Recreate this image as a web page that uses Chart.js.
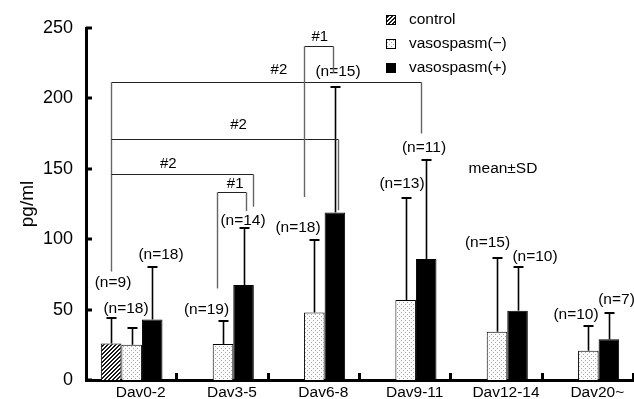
<!DOCTYPE html>
<html>
<head>
<meta charset="utf-8">
<script src="https://cdn.jsdelivr.net/npm/chart.js@4.4.0/dist/chart.umd.min.js"></script>
<style>
  html, body { margin: 0; padding: 0; background: #fff; }
  #wrap { width: 634px; height: 399px; }
</style>
</head>
<body>
<div id="wrap"><canvas id="chart" width="634" height="399"></canvas></div>
<script>
  'use strict';

  // ---- data ----
  const categories = ['Dav0-2', 'Dav3-5', 'Dav6-8', 'Dav9-11', 'Dav12-14', 'Dav20~'];
  const seriesNames = ['control', 'vasospasm(\u2212)', 'vasospasm(+)'];

  const controlMean = [26, null, null, null, null, null];
  const controlSD = [18, null, null, null, null, null];
  const controlN = [9, null, null, null, null, null];

  const negMean = [25, 25.6, 48, 56.8, 34.3, 20.8];
  const negSD = [12, 16, 51.4, 72.2, 52.6, 17.6];
  const negN = [18, 19, 18, 13, 15, 10];

  const posMean = [43, 67.5, 119, 86, 49.2, 28.9];
  const posSD = [37, 40.2, 89, 70.3, 31.3, 18.5];
  const posN = [18, 14, 15, 11, 10, 7];

  const yTicks = [0, 50, 100, 150, 200, 250];

  // significance brackets: ends are bars (category, dataset), heights in pg/ml
  const brackets = [
    { text: '#2', y: 212, a: { cat: 0, ds: 0, dx: 0, drop: 77 }, b: { cat: 3, ds: 2, dx: -5, drop: 175 }, at: 0.54, up: 12.5 },
    { text: '#2', y: 171, a: { cat: 0, ds: 0, dx: 0, drop: 171 }, b: { cat: 2, ds: 2, dx: 3.5, drop: 120.5 }, at: 0.56, up: 14.5 },
    { text: '#2', y: 146, a: { cat: 0, ds: 0, dx: 0, drop: 146 }, b: { cat: 1, ds: 2, dx: 9.5, drop: 123 }, at: 0.40, up: 10.5 },
    { text: '#1', y: 133.7, a: { cat: 1, ds: 1, dx: -6.5, drop: 65 }, b: { cat: 1, ds: 2, dx: 2.5, drop: 120 }, at: 0.61, up: 9 },
    { text: '#1', y: 237.2, a: { cat: 2, ds: 1, dx: -10.5, drop: 130 }, b: { cat: 2, ds: 2, dx: -2, drop: 218 }, at: 0.53, up: 9.5 }
  ];

  // where each "(n=..)" label sits relative to its error cap, px
  const nLabelOffsets = [
    [[1.5, -35], null, null, null, null, null],
    [[-6.5, -19.5], [-17, -11.5], [-16.5, -12.5], [-4.5, -14], [-10, -15], [-12.5, -11]],
    [[8.5, -12.5], [-1.5, -7], [2.5, -15], [-2.5, -12.5], [16.5, -10.5], [7, -13.5]]
  ];

  const FONT = "'Liberation Sans', Arial, Helvetica, sans-serif";

  function hatchPattern(ctx) {
    const c = document.createElement('canvas');
    c.width = c.height = 4;
    const g = c.getContext('2d');
    g.fillStyle = '#fff';
    g.fillRect(0, 0, 4, 4);
    g.fillStyle = '#1a1a1a';
    for (let i = 0; i < 4; i++) {
      g.fillRect(i, 3 - i, 1, 1);
      g.fillRect((i + 1) % 4, 3 - i, 1, 1);
    }
    return ctx.createPattern(c, 'repeat');
  }

  function dotPattern(ctx) {
    const c = document.createElement('canvas');
    c.width = c.height = 4;
    const g = c.getContext('2d');
    g.fillStyle = '#fcfcfc';
    g.fillRect(0, 0, 4, 4);
    g.fillStyle = '#a8a8a8';
    g.fillRect(1, 0, 1, 1);
    g.fillRect(3, 2, 1, 1);
    return ctx.createPattern(c, 'repeat');
  }

  const canvas = document.getElementById('chart');
  const ctx = canvas.getContext('2d');

  const means = [controlMean, negMean, posMean];
  const sds = [controlSD, negSD, posSD];
  const counts = [controlN, negN, posN];

  const overlay = {
    id: 'overlay',
    afterDatasetsDraw(chart) {
      const c = chart.ctx;
      const xs = chart.scales.x;
      const ys = chart.scales.y;
      const area = chart.chartArea;
      const barX = (cat, ds) => chart.getDatasetMeta(ds).data[cat].x;

      c.save();

      // error bars (upper half only) and n labels
      c.font = '15.5px ' + FONT;
      c.textAlign = 'center';
      c.textBaseline = 'middle';
      means.forEach((m, ds) => {
        m.forEach((v, i) => {
          if (v == null) return;
          const bx = Math.round(barX(i, ds)) + 0.5;
          const y0 = ys.getPixelForValue(v);
          const y1 = Math.round(ys.getPixelForValue(v + sds[ds][i]));
          c.strokeStyle = '#000';
          c.lineWidth = 1.6;
          c.beginPath();
          c.moveTo(bx, y0);
          c.lineTo(bx, y1);
          c.stroke();
          c.lineWidth = 2;
          c.beginPath();
          c.moveTo(bx - 5, y1);
          c.lineTo(bx + 5, y1);
          c.stroke();

          const off = nLabelOffsets[ds][i];
          c.fillStyle = '#000';
          c.fillText('(n=' + counts[ds][i] + ')', bx + off[0], y1 + off[1]);
        });
      });

      // significance brackets
      brackets.forEach(b => {
        const xa = Math.round(barX(b.a.cat, b.a.ds) + b.a.dx) + 0.5;
        const xb = Math.round(barX(b.b.cat, b.b.ds) + b.b.dx) + 0.5;
        const yl = Math.round(ys.getPixelForValue(b.y)) + 0.5;
        c.lineWidth = 1;
        c.strokeStyle = '#222';
        c.beginPath();
        c.moveTo(xa, yl);
        c.lineTo(xb, yl);
        c.stroke();
        c.strokeStyle = '#666';
        c.lineWidth = 1.4;
        c.beginPath();
        c.moveTo(xa, yl);
        c.lineTo(xa, ys.getPixelForValue(b.a.drop));
        c.moveTo(xb, yl);
        c.lineTo(xb, ys.getPixelForValue(b.b.drop));
        c.stroke();
        c.fillStyle = '#000';
        c.font = '15px ' + FONT;
        c.fillText(b.text, xa + (xb - xa) * b.at, yl - b.up);
      });

      // note
      c.font = '15.5px ' + FONT;
      c.fillText('mean\u00b1SD', xs.getPixelForValue(4) + 6, ys.getPixelForValue(150.3));

      // inward tick marks
      c.strokeStyle = '#000';
      c.lineWidth = 3;
      c.beginPath();
      yTicks.forEach(v => {
        const ty = Math.round(ys.getPixelForValue(v));
        c.moveTo(area.left, ty);
        c.lineTo(area.left + 6, ty);
      });
      const step = xs.getPixelForValue(1) - xs.getPixelForValue(0);
      for (let i = 0; i < categories.length; i++) {
        const tx = Math.round(xs.getPixelForValue(i) + step / 2) - 0.5;
        c.moveTo(tx, area.bottom);
        c.lineTo(tx, area.bottom - 7);
      }
      c.stroke();

      // legend
      const lx = 386;
      const rows = [20, 44, 68];
      chart.data.datasets.forEach((d, k) => {
        c.fillStyle = d.backgroundColor;
        c.fillRect(lx, rows[k] - 5, 10, 10);
        c.lineWidth = 1;
        c.strokeStyle = '#000';
        c.strokeRect(lx + 0.5, rows[k] - 4.5, 9, 9);
        c.fillStyle = '#000';
        c.textAlign = 'left';
        c.font = '15.5px ' + FONT;
        c.fillText(d.label, 409, rows[k]);
      });

      c.restore();
    }
  };

  new Chart(ctx, {
    type: 'bar',
    data: {
      labels: categories,
      datasets: [
        { label: seriesNames[0], data: controlMean, backgroundColor: hatchPattern(ctx), borderColor: '#000', borderWidth: 1 },
        { label: seriesNames[1], data: negMean, backgroundColor: dotPattern(ctx), borderColor: '#000', borderWidth: 1 },
        { label: seriesNames[2], data: posMean, backgroundColor: '#000', borderColor: '#000', borderWidth: 1 }
      ]
    },
    options: {
      responsive: false,
      animation: false,
      categoryPercentage: 0.675,
      barPercentage: 1,
      layout: { padding: { top: 28, right: 0, bottom: 0, left: 0 } },
      plugins: {
        legend: { display: false },
        tooltip: { enabled: false }
      },
      scales: {
        x: {
          offset: true,
          grid: { display: false, drawTicks: false },
          border: { display: true, color: '#000', width: 3 },
          ticks: {
            color: '#000',
            font: { family: FONT, size: 15.5 },
            padding: 3,
            labelOffset: 9,
            maxRotation: 0,
            autoSkip: false
          },
          afterFit(s) { s.height = 19; }
        },
        y: {
          min: 0,
          max: 250,
          grid: { display: false, drawTicks: false },
          border: { display: true, color: '#000', width: 3 },
          afterBuildTicks(s) { s.ticks = yTicks.map(v => ({ value: v })); },
          ticks: {
            color: '#000',
            font: { family: FONT, size: 18 },
            padding: 13
          },
          title: {
            display: true,
            text: 'pg/ml',
            color: '#000',
            font: { family: FONT, size: 19 },
            padding: { top: 16, bottom: 0 }
          },
          afterFit(s) {
            s.width = 86;
            s.paddingTop = 0;
            s.paddingBottom = 0;
          }
        }
      }
    },
    plugins: [overlay]
  });
</script>
</body>
</html>
